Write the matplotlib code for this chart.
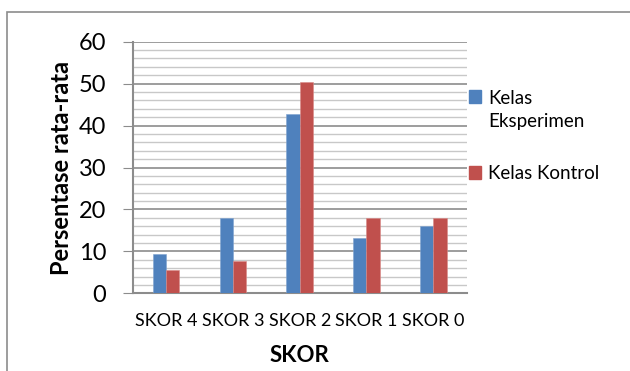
import numpy as np
import matplotlib
matplotlib.use("Agg")
import matplotlib.pyplot as plt
from matplotlib.patches import Patch, Rectangle
from matplotlib.legend_handler import HandlerPatch

plt.rcParams['font.family'] = ['Lato', 'DejaVu Sans']

# data
kategori = ['SKOR 4', 'SKOR 3', 'SKOR 2', 'SKOR 1', 'SKOR 0']
eksperimen = [9.4, 18.0, 42.8, 13.3, 16.1]
kontrol = [5.6, 7.6, 50.5, 18.0, 18.0]
seri_label = ['Kelas\nEksperimen', 'Kelas Kontrol']
warna = ['#4F81BD', '#C0504D']

fig = plt.figure(figsize=(6.3, 3.71), dpi=100)
# outer chart frame
fig.patches.append(Rectangle((7 / 630, -0.01), 1.0, 1 - 12 / 371 + 0.01,
                             transform=fig.transFigure, fill=False,
                             edgecolor='#8c8c8c', linewidth=1.2))

ax = fig.add_axes([0.2106, 0.2094, 0.5302, 0.6782])
x = np.arange(len(kategori))
w = 0.2
ax.bar(x - w / 2, eksperimen, w, color=warna[0], edgecolor='#7fa3d0', linewidth=0.4, zorder=3)
ax.bar(x + w / 2, kontrol, w, color=warna[1], edgecolor='#d98a88', linewidth=0.4, zorder=3)

ax.set_xlim(-0.5, len(kategori) - 0.5)
ax.set_ylim(0, 60)
ax.set_yticks(np.arange(0, 61, 10))
ax.set_yticks(np.arange(0, 61, 2), minor=True)
ax.grid(axis='y', which='major', color='#8c8c8c', linewidth=1.2, zorder=0)
ax.grid(axis='y', which='minor', color='#c8c8c8', linewidth=1.0, zorder=0)
ax.set_xticks(x)
ax.set_xticklabels(kategori, fontsize=13)
ax.tick_params(axis='x', length=0, pad=14)
ax.tick_params(axis='y', which='major', length=7, color='#8c8c8c', labelsize=17, pad=12)
ax.tick_params(axis='y', which='minor', length=0)
for s in ['top', 'right']:
    ax.spines[s].set_visible(False)
for s in ['left', 'bottom']:
    ax.spines[s].set_color('#8c8c8c')
    ax.spines[s].set_linewidth(1.5)

ax.set_ylabel('Persentase rata-rata', fontsize=17, fontweight='bold', labelpad=4)
ax.set_xlabel('SKOR', fontsize=16, fontweight='bold', labelpad=12)


# square handle, lifted to the first text line for the two-line label
def kotak_atas(legend, orig_handle, xdescent, ydescent, width, height, fontsize):
    return Rectangle((-xdescent, -ydescent + 10), width, height)


handles = [Patch(color=c) for c in warna]
leg = ax.legend(handles, seri_label, loc='upper left',
                bbox_to_anchor=(469 / 630, 1 - 90 / 371), bbox_transform=fig.transFigure,
                frameon=False, fontsize=13.5, handlelength=0.65, handleheight=0.65,
                handletextpad=0.35, labelspacing=1.85, borderpad=0, borderaxespad=0,
                handler_map={handles[0]: HandlerPatch(patch_func=kotak_atas)})
for t in leg.get_texts():
    t.set_linespacing(1.45)

fig.savefig('out.png', dpi=100)
